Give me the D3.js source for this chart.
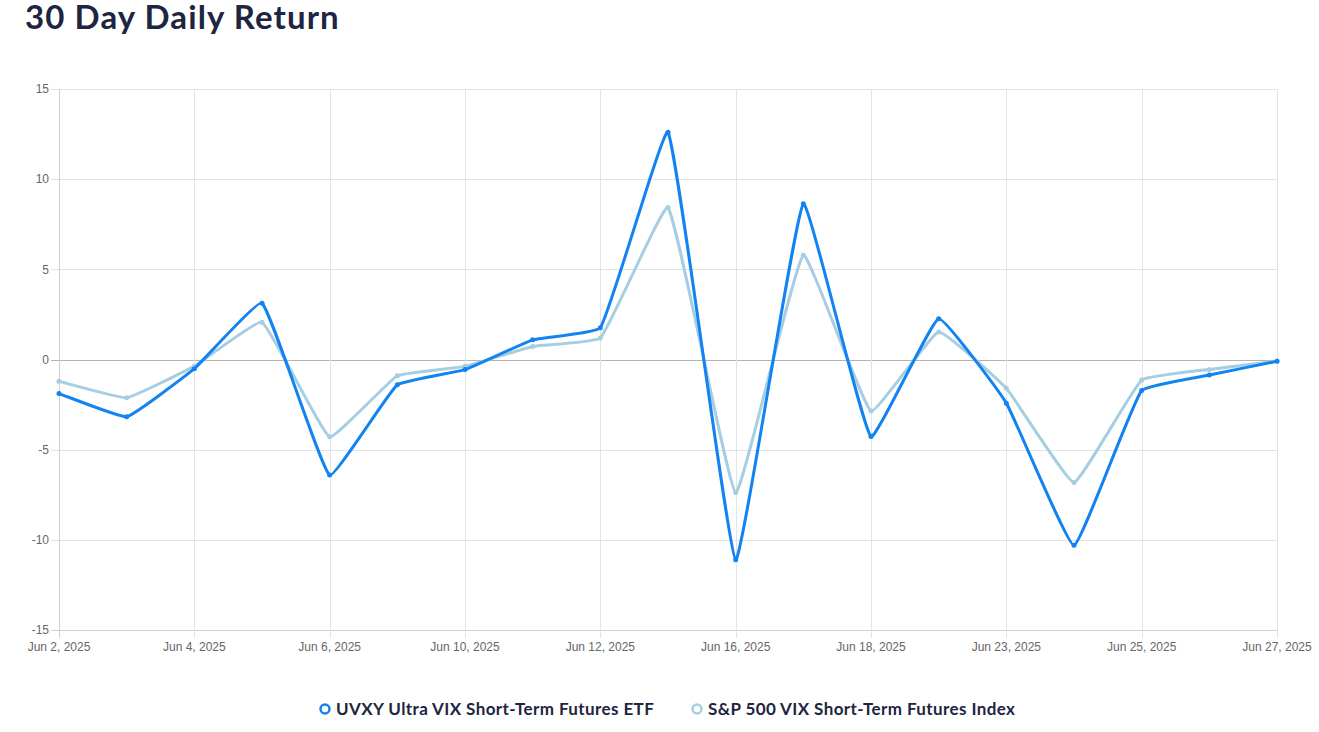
<!DOCTYPE html>
<html>
<head>
<meta charset="utf-8">
<script src="https://cdn.jsdelivr.net/npm/d3@7"></script>
<style>
  html, body { margin: 0; padding: 0; background: #fff; }
  svg { display: block; }
</style>
</head>
<body>
<svg id="chart" width="1319" height="732"></svg>
<script>
const titleText = "30 Day Daily Return";
const dates = ["Jun 2, 2025","Jun 3, 2025","Jun 4, 2025","Jun 5, 2025","Jun 6, 2025","Jun 9, 2025","Jun 10, 2025","Jun 11, 2025","Jun 12, 2025","Jun 13, 2025","Jun 16, 2025","Jun 17, 2025","Jun 18, 2025","Jun 20, 2025","Jun 23, 2025","Jun 24, 2025","Jun 25, 2025","Jun 26, 2025","Jun 27, 2025"];
const uvxyName = "UVXY Ultra VIX Short-Term Futures ETF";
const uvxy = [-1.89,-3.17,-0.51,3.12,-6.41,-1.40,-0.56,1.09,1.76,12.6,-11.1,8.63,-4.27,2.26,-2.42,-10.3,-1.72,-0.86,-0.10];
const indexName = "S&P 500 VIX Short-Term Futures Index";
const vixIndex = [-1.21,-2.12,-0.37,2.06,-4.28,-0.90,-0.38,0.72,1.19,8.43,-7.38,5.78,-2.86,1.53,-1.60,-6.82,-1.14,-0.55,-0.09];
const yTicks = [-15,-10,-5,0,5,10,15];
const xTickLabels = ["Jun 2, 2025","Jun 4, 2025","Jun 6, 2025","Jun 10, 2025","Jun 12, 2025","Jun 16, 2025","Jun 18, 2025","Jun 23, 2025","Jun 25, 2025","Jun 27, 2025"];

(function () {
const colors = { uvxy: "#1283f0", idx: "#a6cee3" };
const svg = d3.select("#chart");
const pl = 59, pr = 1277, pt = 89, pb = 630;

const x = d3.scalePoint().domain(dates).range([pl, pr]);
const y = d3.scaleLinear().domain([-15, 15]).range([pb, pt]);

// title
svg.append("text")
  .attr("x", 25).attr("y", 29)
  .attr("font-family", "Lato, 'Noto Sans', sans-serif")
  .attr("font-weight", 700)
  .attr("font-size", 33)
  .attr("letter-spacing", 1.1)
  .attr("fill", "#1d2540")
  .text(titleText);

// grid
const g = svg.append("g");
g.selectAll("line.hgrid").data(yTicks).join("line")
  .attr("x1", pl - 8).attr("x2", pr)
  .attr("y1", d => Math.round(y(d)) + 0.5).attr("y2", d => Math.round(y(d)) + 0.5)
  .attr("stroke", d => d === 0 ? "#b3b3b3" : (d === -15 ? "#cfcfcf" : "#e3e3e3"))
  .attr("stroke-width", 1);
g.selectAll("line.vgrid").data(xTickLabels).join("line")
  .attr("x1", d => Math.round(x(d)) + 0.5).attr("x2", d => Math.round(x(d)) + 0.5)
  .attr("y1", pt).attr("y2", pb + 8)
  .attr("stroke", (d, i) => i === 0 ? "#cfcfcf" : "#e3e3e3")
  .attr("stroke-width", 1);

// y labels
g.selectAll("text.ylab").data(yTicks).join("text")
  .attr("x", pl - 10).attr("y", d => y(d))
  .attr("dy", "0.35em")
  .attr("text-anchor", "end")
  .attr("font-family", "'Liberation Sans', Arial, sans-serif")
  .attr("font-size", 12)
  .attr("fill", "#666")
  .text(d => d);

// x labels
g.selectAll("text.xlab").data(xTickLabels).join("text")
  .attr("x", d => x(d)).attr("y", pb + 21)
  .attr("text-anchor", "middle")
  .attr("font-family", "'Liberation Sans', Arial, sans-serif")
  .attr("font-size", 12)
  .attr("fill", "#666")
  .text(d => d);

// Chart.js-style spline (distance-weighted control points)
const tension = 0.1;
function splinePath(values) {
  const pts = values.map((v, i) => ({ x: x(dates[i]), y: y(v) }));
  const n = pts.length;
  pts.forEach((p, i) => {
    const prev = pts[i - 1] || p, next = pts[i + 1] || p;
    const d01 = Math.hypot(p.x - prev.x, p.y - prev.y);
    const d12 = Math.hypot(next.x - p.x, next.y - p.y);
    let s01 = d01 / (d01 + d12), s12 = d12 / (d01 + d12);
    if (!isFinite(s01)) s01 = 0;
    if (!isFinite(s12)) s12 = 0;
    const fa = tension * s01, fb = tension * s12;
    p.cpPrev = { x: p.x - fa * (next.x - prev.x), y: p.y - fa * (next.y - prev.y) };
    p.cpNext = { x: p.x + fb * (next.x - prev.x), y: p.y + fb * (next.y - prev.y) };
  });
  const path = d3.path();
  path.moveTo(pts[0].x, pts[0].y);
  for (let i = 1; i < n; i++) {
    const a = pts[i - 1], b = pts[i];
    path.bezierCurveTo(a.cpNext.x, a.cpNext.y, b.cpPrev.x, b.cpPrev.y, b.x, b.y);
  }
  return path.toString();
}

function drawSeries(values, color) {
  svg.append("path")
    .attr("d", splinePath(values))
    .attr("fill", "none")
    .attr("stroke", color)
    .attr("stroke-width", 3)
    .attr("stroke-linejoin", "round");
  svg.append("g").selectAll("circle").data(values).join("circle")
    .attr("cx", (d, i) => x(dates[i]))
    .attr("cy", d => y(d))
    .attr("r", 2.5)
    .attr("fill", color);
}
drawSeries(vixIndex, colors.idx);
drawSeries(uvxy, colors.uvxy);

// legend
const legend = svg.append("g");
const items = [
  { name: uvxyName, color: colors.uvxy, cx: 325 },
  { name: indexName, color: colors.idx, cx: 697 }
];
items.forEach(it => {
  legend.append("circle")
    .attr("cx", it.cx).attr("cy", 709).attr("r", 4.5)
    .attr("fill", "#fff").attr("stroke", it.color).attr("stroke-width", 2.5);
  legend.append("text")
    .attr("x", it.cx + 11).attr("y", 709).attr("dy", "0.35em")
    .attr("font-family", "Lato, 'Noto Sans', sans-serif")
    .attr("font-weight", 700)
    .attr("font-size", 17)
    .attr("letter-spacing", 0.4)
    .attr("fill", "#1d2540")
    .text(it.name);
});
})();
</script>
</body>
</html>
